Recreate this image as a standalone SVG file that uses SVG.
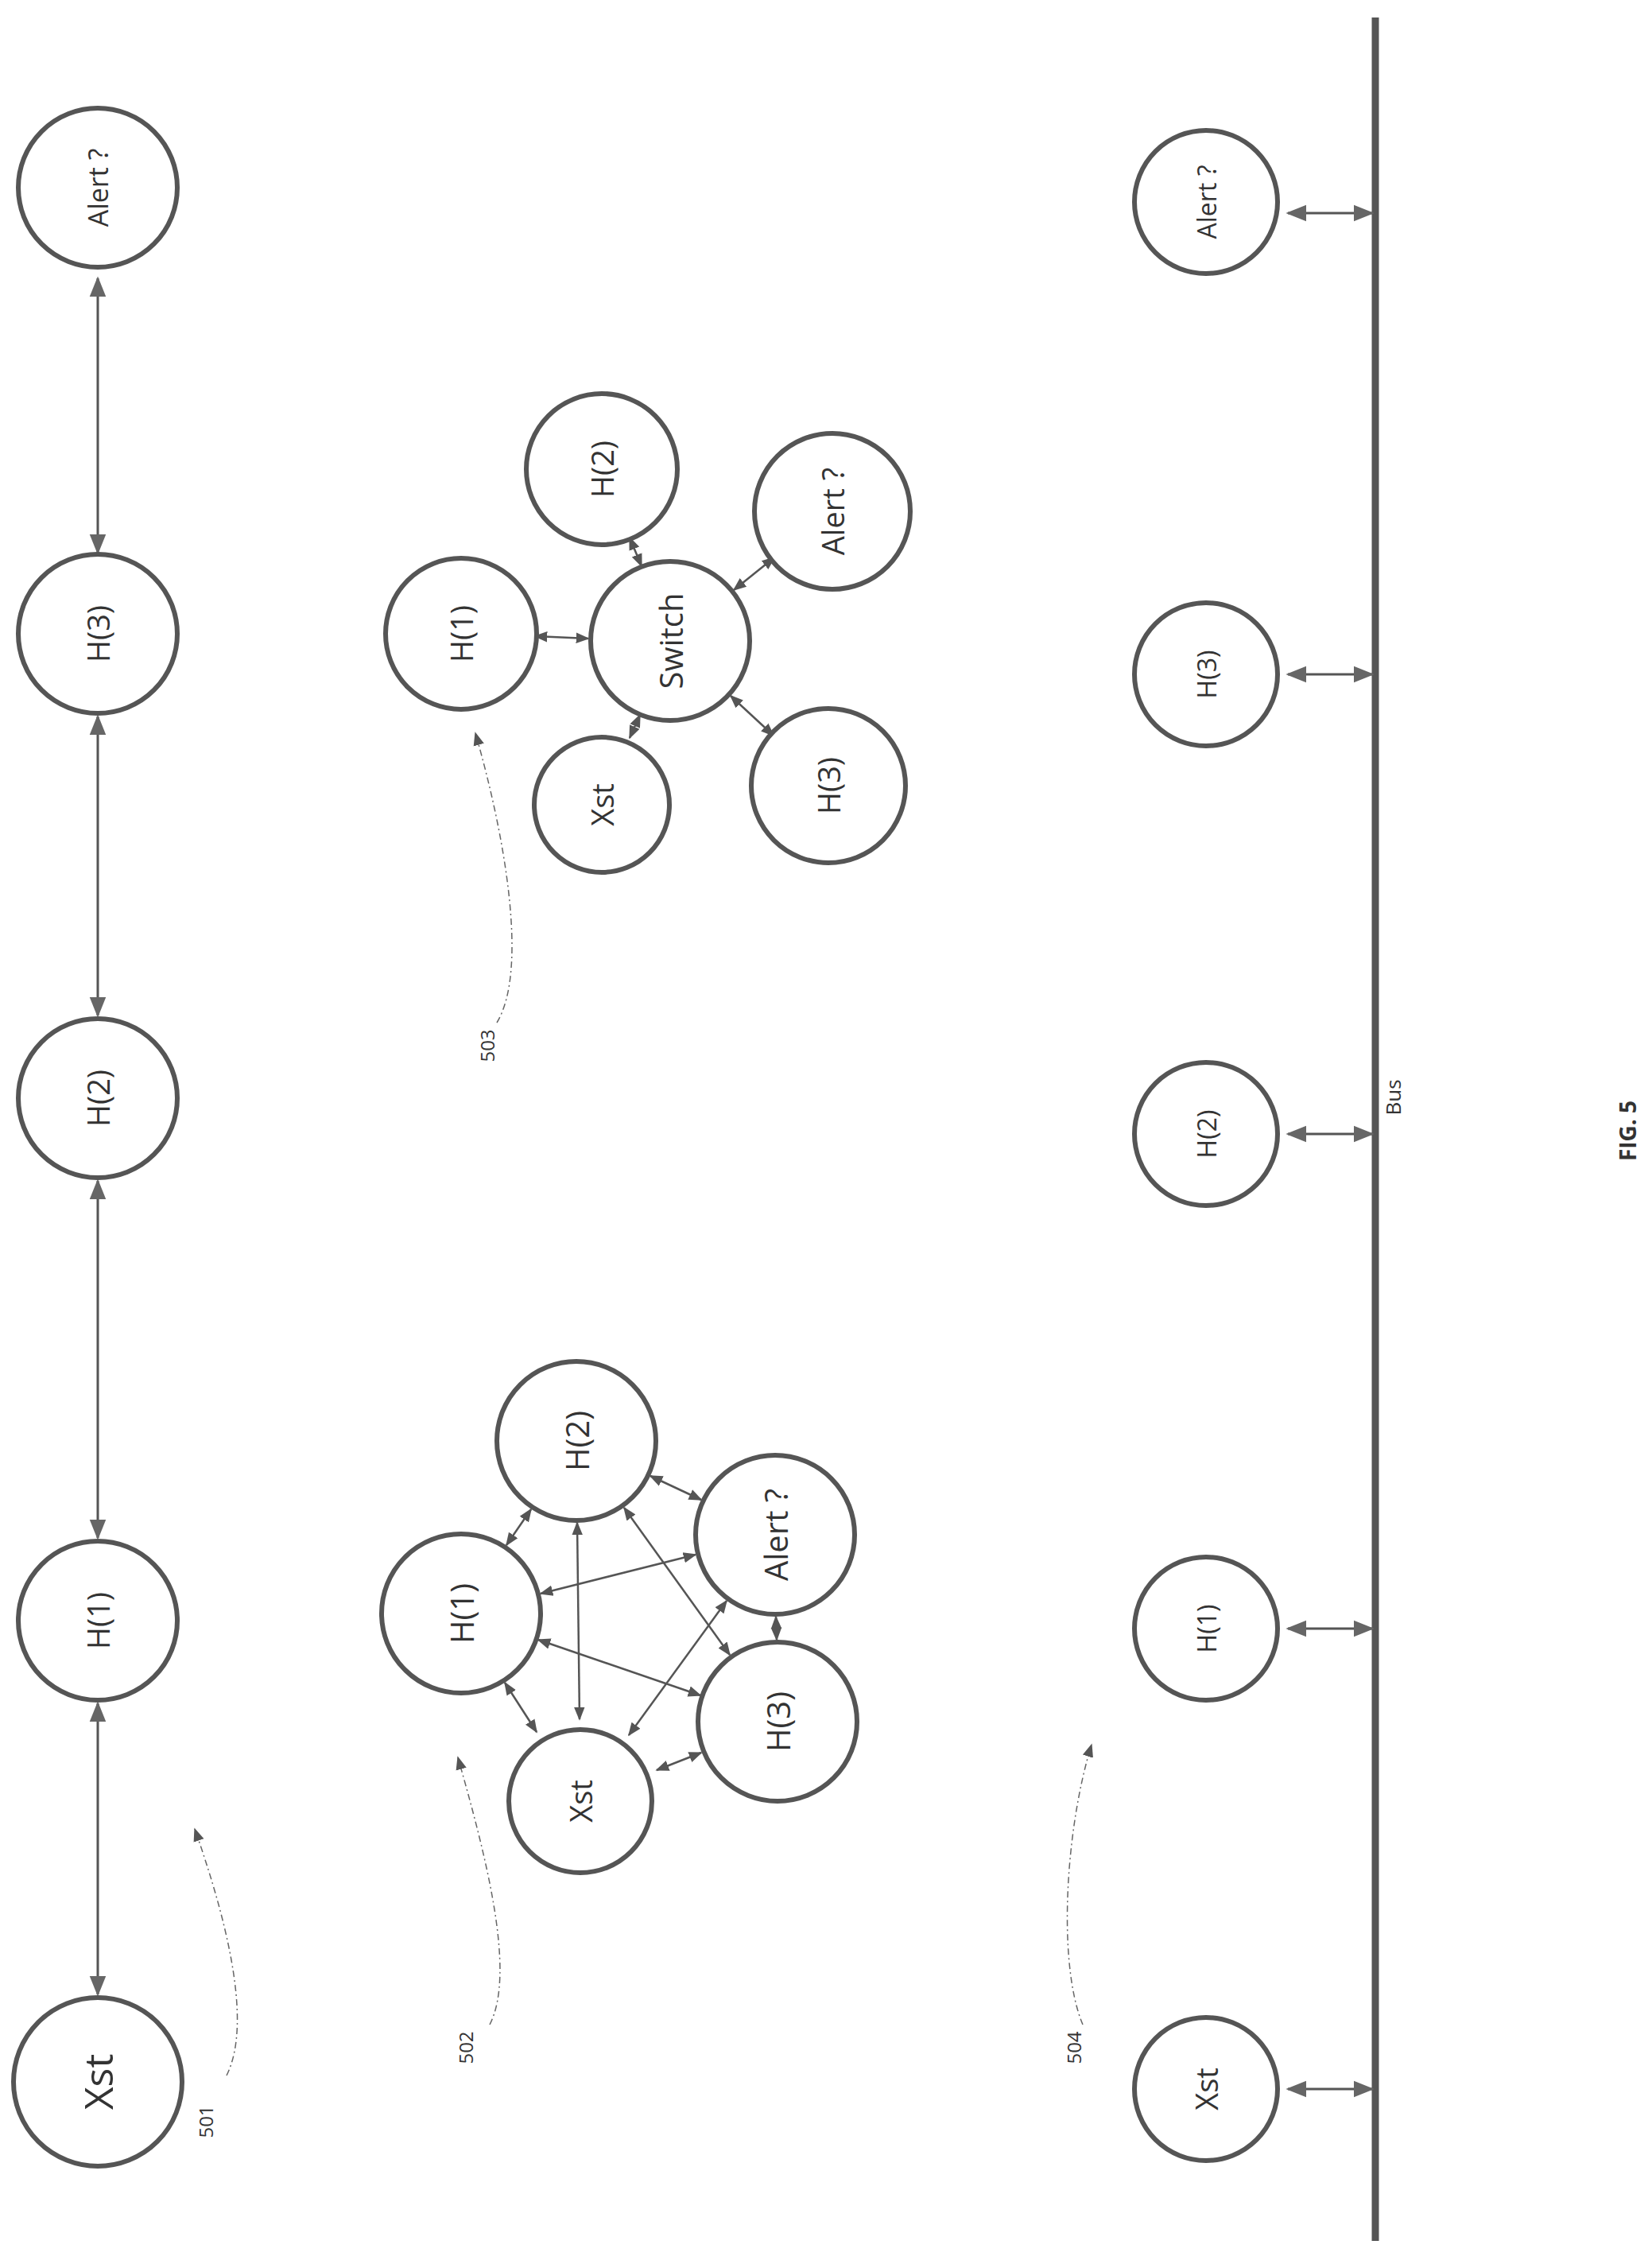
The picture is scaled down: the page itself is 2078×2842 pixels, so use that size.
<svg xmlns="http://www.w3.org/2000/svg" width="2078" height="2842" viewBox="0 0 2078 2842">
<style>
.n{fill:#fff;stroke:#555;stroke-width:6}
.t{font-family:"Open Sans","DejaVu Sans",sans-serif;fill:#333;text-anchor:middle;dominant-baseline:central}
.c{stroke:#555;stroke-width:2.5;fill:none;marker-start:url(#a);marker-end:url(#a)}
.cb{stroke:#555;stroke-width:3;fill:none;marker-start:url(#b);marker-end:url(#b)}
.d{stroke:#666;stroke-width:1.5;fill:none;stroke-dasharray:8 4 2 4;marker-end:url(#a)}
</style>
<defs>
<marker id="a" viewBox="0 0 10 10" refX="9" refY="5" markerWidth="17" markerHeight="17" markerUnits="userSpaceOnUse" orient="auto-start-reverse"><path d="M0,1L10,5L0,9z" fill="#555"/></marker>
<marker id="b" viewBox="0 0 10 10" refX="9" refY="5" markerWidth="26" markerHeight="26" markerUnits="userSpaceOnUse" orient="auto-start-reverse"><path d="M0,1L10,5L0,9z" fill="#666"/></marker>
</defs>
<rect width="2078" height="2842" fill="#fff"/>
<g id="connectors">
<line class="cb" x1="123" y1="350" x2="123" y2="695"/>
<line class="cb" x1="123" y1="901" x2="123" y2="1277"/>
<line class="cb" x1="123" y1="1485" x2="123" y2="1934"/>
<line class="cb" x1="123" y1="2142" x2="123" y2="2508"/>
<line class="c" x1="637" y1="1943" x2="668" y2="1898"/>
<line class="c" x1="818" y1="1856" x2="882" y2="1886"/>
<line class="c" x1="976" y1="2033" x2="977" y2="2062"/>
<line class="c" x1="882" y1="2204" x2="826" y2="2226"/>
<line class="c" x1="675" y1="2178" x2="635" y2="2116"/>
<line class="c" x1="726" y1="1915" x2="729" y2="2162"/>
<line class="c" x1="785" y1="1896" x2="918" y2="2081"/>
<line class="c" x1="680" y1="2004" x2="875" y2="1955"/>
<line class="c" x1="677" y1="2062" x2="881" y2="2132"/>
<line class="c" x1="914" y1="2013" x2="791" y2="2182"/>
<line class="c" x1="740" y1="803" x2="673" y2="800"/>
<line class="c" x1="807" y1="712" x2="792" y2="676"/>
<line class="c" x1="923" y1="742" x2="974" y2="701"/>
<line class="c" x1="919" y1="875" x2="973" y2="925"/>
<line class="c" x1="805" y1="899" x2="792" y2="928"/>
<line x1="1730" y1="22" x2="1730" y2="2818" stroke="#555" stroke-width="9"/>
<line class="cb" x1="1620" y1="268" x2="1726" y2="268"/>
<line class="cb" x1="1620" y1="848" x2="1726" y2="848"/>
<line class="cb" x1="1620" y1="1426" x2="1726" y2="1426"/>
<line class="cb" x1="1620" y1="2048" x2="1726" y2="2048"/>
<line class="cb" x1="1620" y1="2627" x2="1726" y2="2627"/>
<path class="d" d="M285,2610 C320,2540 280,2400 245,2300"/>
<path class="d" d="M616,2546 C650,2480 610,2330 576,2210"/>
<path class="d" d="M625,1286 C665,1220 635,1050 598,922"/>
<path class="d" d="M1362,2546 C1330,2470 1340,2300 1373,2194"/>
</g>
<g id="n501-alert"><circle class="n" cx="123" cy="236" r="100"/><text class="t" font-size="34" transform="translate(123,236) rotate(-90)">Alert ?</text></g>
<g id="n501-h3"><circle class="n" cx="123" cy="797" r="100"/><text class="t" font-size="38" transform="translate(123,797) rotate(-90)">H(3)</text></g>
<g id="n501-h2"><circle class="n" cx="123" cy="1381" r="100"/><text class="t" font-size="38" transform="translate(123,1381) rotate(-90)">H(2)</text></g>
<g id="n501-h1"><circle class="n" cx="123" cy="2038" r="100"/><text class="t" font-size="38" transform="translate(123,2038) rotate(-90)">H(1)</text></g>
<g id="n501-xst"><circle class="n" cx="123" cy="2618" r="106"/><text class="t" font-size="50" transform="translate(123,2618) rotate(-90)">Xst</text></g>
<g id="n502-h1"><circle class="n" cx="580" cy="2029" r="100"/><text class="t" font-size="40" transform="translate(580,2029) rotate(-90)">H(1)</text></g>
<g id="n502-h2"><circle class="n" cx="725" cy="1812" r="100"/><text class="t" font-size="40" transform="translate(725,1812) rotate(-90)">H(2)</text></g>
<g id="n502-alert"><circle class="n" cx="975" cy="1930" r="100"/><text class="t" font-size="40" transform="translate(975,1930) rotate(-90)">Alert ?</text></g>
<g id="n502-h3"><circle class="n" cx="978" cy="2165" r="100"/><text class="t" font-size="40" transform="translate(978,2165) rotate(-90)">H(3)</text></g>
<g id="n502-xst"><circle class="n" cx="730" cy="2265" r="90"/><text class="t" font-size="38" transform="translate(730,2265) rotate(-90)">Xst</text></g>
<g id="n503-h1"><circle class="n" cx="580" cy="797" r="95"/><text class="t" font-size="38" transform="translate(580,797) rotate(-90)">H(1)</text></g>
<g id="n503-h2"><circle class="n" cx="757" cy="590" r="95"/><text class="t" font-size="38" transform="translate(757,590) rotate(-90)">H(2)</text></g>
<g id="n503-alert"><circle class="n" cx="1047" cy="643" r="98"/><text class="t" font-size="38" transform="translate(1047,643) rotate(-90)">Alert ?</text></g>
<g id="n503-switch"><circle class="n" cx="843" cy="806" r="100"/><text class="t" font-size="40" transform="translate(843,806) rotate(-90)">Switch</text></g>
<g id="n503-h3"><circle class="n" cx="1042" cy="988" r="97"/><text class="t" font-size="38" transform="translate(1042,988) rotate(-90)">H(3)</text></g>
<g id="n503-xst"><circle class="n" cx="757" cy="1012" r="85"/><text class="t" font-size="38" transform="translate(757,1012) rotate(-90)">Xst</text></g>
<g id="n504-alert"><circle class="n" cx="1517" cy="254" r="90"/><text class="t" font-size="32" transform="translate(1517,254) rotate(-90)">Alert ?</text></g>
<g id="n504-h3"><circle class="n" cx="1517" cy="848" r="90"/><text class="t" font-size="32" transform="translate(1517,848) rotate(-90)">H(3)</text></g>
<g id="n504-h2"><circle class="n" cx="1517" cy="1426" r="90"/><text class="t" font-size="32" transform="translate(1517,1426) rotate(-90)">H(2)</text></g>
<g id="n504-h1"><circle class="n" cx="1517" cy="2048" r="90"/><text class="t" font-size="32" transform="translate(1517,2048) rotate(-90)">H(1)</text></g>
<g id="n504-xst"><circle class="n" cx="1517" cy="2627" r="90"/><text class="t" font-size="38" transform="translate(1517,2627) rotate(-90)">Xst</text></g>
<g id="labels">
<text class="t" font-size="24" transform="translate(258,2668) rotate(-90)">501</text>
<text class="t" font-size="24" transform="translate(585,2575) rotate(-90)">502</text>
<text class="t" font-size="24" transform="translate(612,1315) rotate(-90)">503</text>
<text class="t" font-size="24" transform="translate(1350,2575) rotate(-90)">504</text>
<text class="t" font-size="26" transform="translate(1752,1380) rotate(-90)">Bus</text>
<text class="t" font-size="28" font-weight="bold" transform="translate(2047,1422) rotate(-90)">FIG. 5</text>
</g>
</svg>
